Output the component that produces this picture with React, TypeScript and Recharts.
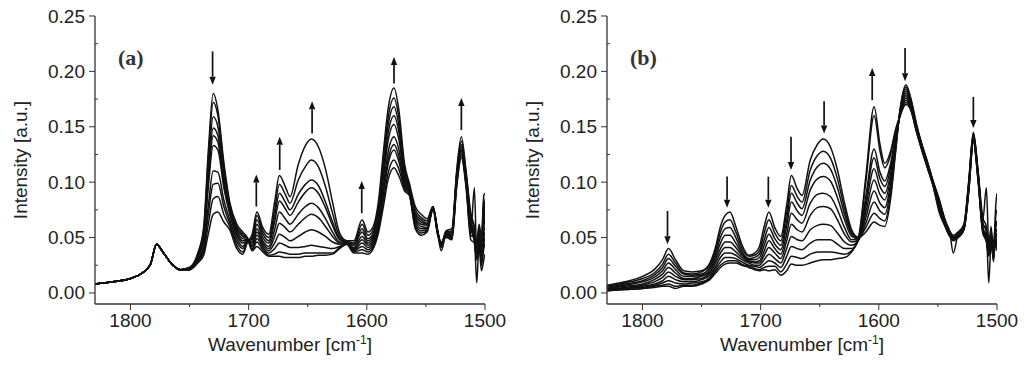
import React from 'react';
import { LineChart, Line, XAxis, YAxis, ReferenceLine, Customized } from 'recharts';

// wavenumber grid shared by both panels (cm-1)
const WAVENUMBERS = [
  1830, 1815, 1800, 1790, 1783, 1778, 1772, 1765, 1758, 1750,
  1743, 1738, 1734, 1730, 1726, 1721, 1716, 1710, 1705, 1701,
  1697, 1693, 1688, 1683, 1678, 1674, 1669, 1665, 1658, 1652,
  1647, 1641, 1635, 1629, 1623, 1617, 1611, 1604, 1599, 1595,
  1590, 1586, 1582, 1577, 1573, 1568, 1564, 1559, 1554, 1549,
  1544, 1540, 1537, 1533, 1528, 1524, 1520, 1516, 1512, 1509,
  1507, 1505, 1503, 1501, 1500,
];

// panel (a) spectra, first to last
const A0 = [0.008, 0.010, 0.013, 0.018, 0.026, 0.044, 0.036, 0.026, 0.021, 0.023, 0.036, 0.060, 0.130, 0.180, 0.165, 0.118, 0.082, 0.062, 0.055, 0.050, 0.038, 0.042, 0.037, 0.033, 0.033, 0.033, 0.032, 0.032, 0.032, 0.033, 0.033, 0.034, 0.034, 0.035, 0.040, 0.044, 0.036, 0.036, 0.035, 0.039, 0.055, 0.078, 0.102, 0.113, 0.106, 0.092, 0.088, 0.058, 0.052, 0.055, 0.075, 0.052, 0.046, 0.050, 0.048, 0.095, 0.122, 0.095, 0.048, 0.045, 0.030, 0.040, 0.020, 0.030, 0.035];
const A1 = [0.008, 0.010, 0.013, 0.018, 0.026, 0.044, 0.036, 0.026, 0.021, 0.023, 0.035, 0.057, 0.124, 0.172, 0.160, 0.114, 0.080, 0.060, 0.053, 0.049, 0.039, 0.046, 0.039, 0.034, 0.035, 0.037, 0.036, 0.035, 0.035, 0.036, 0.036, 0.036, 0.036, 0.036, 0.041, 0.044, 0.037, 0.039, 0.037, 0.041, 0.058, 0.083, 0.108, 0.120, 0.112, 0.094, 0.089, 0.060, 0.054, 0.056, 0.076, 0.053, 0.045, 0.051, 0.049, 0.097, 0.124, 0.097, 0.052, 0.050, 0.009, 0.045, 0.030, 0.070, 0.060];
const A2 = [0.008, 0.010, 0.013, 0.018, 0.026, 0.044, 0.036, 0.026, 0.021, 0.022, 0.034, 0.054, 0.115, 0.159, 0.150, 0.108, 0.077, 0.058, 0.051, 0.049, 0.040, 0.049, 0.041, 0.036, 0.040, 0.045, 0.043, 0.041, 0.041, 0.042, 0.043, 0.042, 0.041, 0.040, 0.042, 0.045, 0.038, 0.042, 0.039, 0.043, 0.061, 0.089, 0.116, 0.129, 0.119, 0.096, 0.090, 0.062, 0.056, 0.057, 0.076, 0.053, 0.038, 0.052, 0.050, 0.099, 0.126, 0.099, 0.055, 0.095, 0.035, 0.050, 0.025, 0.040, 0.045];
const A3 = [0.008, 0.010, 0.013, 0.018, 0.026, 0.044, 0.036, 0.026, 0.021, 0.022, 0.033, 0.052, 0.108, 0.149, 0.142, 0.103, 0.075, 0.056, 0.049, 0.048, 0.042, 0.052, 0.043, 0.038, 0.045, 0.053, 0.050, 0.047, 0.051, 0.055, 0.057, 0.055, 0.051, 0.046, 0.044, 0.045, 0.039, 0.045, 0.041, 0.045, 0.063, 0.092, 0.120, 0.134, 0.124, 0.098, 0.091, 0.064, 0.058, 0.058, 0.077, 0.054, 0.044, 0.053, 0.051, 0.101, 0.128, 0.100, 0.058, 0.048, 0.032, 0.038, 0.035, 0.075, 0.065];
const A4 = [0.008, 0.010, 0.013, 0.018, 0.026, 0.044, 0.036, 0.026, 0.021, 0.022, 0.032, 0.050, 0.103, 0.142, 0.136, 0.099, 0.073, 0.054, 0.047, 0.048, 0.043, 0.055, 0.045, 0.040, 0.051, 0.063, 0.059, 0.055, 0.062, 0.068, 0.071, 0.068, 0.060, 0.051, 0.045, 0.045, 0.040, 0.048, 0.043, 0.047, 0.066, 0.097, 0.127, 0.141, 0.130, 0.100, 0.092, 0.066, 0.060, 0.059, 0.077, 0.054, 0.043, 0.053, 0.052, 0.102, 0.129, 0.102, 0.060, 0.052, 0.038, 0.055, 0.028, 0.045, 0.050];
const A5 = [0.008, 0.010, 0.013, 0.018, 0.026, 0.044, 0.036, 0.026, 0.021, 0.022, 0.032, 0.048, 0.097, 0.133, 0.129, 0.095, 0.071, 0.052, 0.045, 0.047, 0.045, 0.058, 0.047, 0.042, 0.057, 0.073, 0.067, 0.062, 0.071, 0.078, 0.081, 0.077, 0.067, 0.055, 0.046, 0.046, 0.041, 0.051, 0.045, 0.049, 0.070, 0.104, 0.137, 0.152, 0.139, 0.103, 0.093, 0.068, 0.062, 0.061, 0.077, 0.055, 0.045, 0.054, 0.053, 0.103, 0.130, 0.103, 0.062, 0.046, 0.030, 0.042, 0.040, 0.080, 0.070];
const A6 = [0.008, 0.010, 0.013, 0.018, 0.026, 0.044, 0.036, 0.026, 0.021, 0.021, 0.030, 0.043, 0.080, 0.110, 0.109, 0.084, 0.066, 0.049, 0.042, 0.047, 0.046, 0.062, 0.050, 0.045, 0.064, 0.083, 0.076, 0.070, 0.082, 0.091, 0.095, 0.090, 0.077, 0.061, 0.048, 0.046, 0.043, 0.055, 0.047, 0.051, 0.073, 0.110, 0.144, 0.160, 0.146, 0.106, 0.094, 0.070, 0.064, 0.062, 0.077, 0.055, 0.042, 0.054, 0.054, 0.105, 0.132, 0.105, 0.064, 0.055, 0.040, 0.058, 0.032, 0.050, 0.055];
const A7 = [0.008, 0.010, 0.013, 0.018, 0.026, 0.044, 0.036, 0.026, 0.021, 0.021, 0.029, 0.040, 0.072, 0.098, 0.099, 0.078, 0.063, 0.046, 0.040, 0.047, 0.048, 0.066, 0.053, 0.047, 0.069, 0.090, 0.082, 0.075, 0.089, 0.098, 0.102, 0.097, 0.082, 0.064, 0.049, 0.046, 0.044, 0.058, 0.049, 0.053, 0.076, 0.115, 0.151, 0.168, 0.152, 0.109, 0.095, 0.072, 0.066, 0.063, 0.078, 0.055, 0.044, 0.055, 0.055, 0.106, 0.134, 0.106, 0.066, 0.050, 0.036, 0.047, 0.045, 0.085, 0.075];
const A8 = [0.008, 0.010, 0.013, 0.018, 0.026, 0.044, 0.036, 0.026, 0.021, 0.021, 0.028, 0.037, 0.063, 0.085, 0.087, 0.071, 0.060, 0.043, 0.037, 0.046, 0.050, 0.070, 0.056, 0.050, 0.075, 0.098, 0.089, 0.081, 0.102, 0.114, 0.120, 0.114, 0.096, 0.072, 0.051, 0.047, 0.045, 0.062, 0.052, 0.056, 0.080, 0.121, 0.158, 0.176, 0.159, 0.112, 0.097, 0.075, 0.068, 0.065, 0.078, 0.056, 0.041, 0.055, 0.056, 0.108, 0.137, 0.108, 0.069, 0.058, 0.042, 0.060, 0.036, 0.055, 0.060];
const A9 = [0.008, 0.010, 0.013, 0.018, 0.026, 0.044, 0.036, 0.026, 0.021, 0.021, 0.027, 0.034, 0.054, 0.071, 0.073, 0.064, 0.057, 0.040, 0.035, 0.046, 0.053, 0.073, 0.059, 0.053, 0.082, 0.106, 0.096, 0.087, 0.116, 0.133, 0.139, 0.132, 0.112, 0.082, 0.054, 0.047, 0.047, 0.066, 0.055, 0.059, 0.084, 0.127, 0.166, 0.185, 0.166, 0.116, 0.099, 0.078, 0.071, 0.067, 0.078, 0.056, 0.043, 0.056, 0.058, 0.110, 0.141, 0.110, 0.072, 0.060, 0.045, 0.062, 0.050, 0.088, 0.090];

// panel (b) spectra, first to last
const B0 = [0.007, 0.010, 0.015, 0.021, 0.030, 0.040, 0.030, 0.020, 0.019, 0.020, 0.027, 0.042, 0.060, 0.070, 0.073, 0.060, 0.044, 0.034, 0.036, 0.042, 0.060, 0.073, 0.059, 0.051, 0.079, 0.106, 0.094, 0.088, 0.120, 0.134, 0.139, 0.132, 0.111, 0.081, 0.057, 0.050, 0.055, 0.064, 0.061, 0.060, 0.085, 0.125, 0.166, 0.188, 0.176, 0.152, 0.136, 0.119, 0.101, 0.085, 0.066, 0.056, 0.052, 0.055, 0.062, 0.100, 0.145, 0.110, 0.068, 0.060, 0.040, 0.060, 0.035, 0.080, 0.090];
const B1 = [0.006, 0.009, 0.013, 0.018, 0.026, 0.035, 0.027, 0.018, 0.017, 0.019, 0.025, 0.039, 0.055, 0.064, 0.066, 0.055, 0.041, 0.033, 0.034, 0.038, 0.054, 0.066, 0.054, 0.047, 0.072, 0.097, 0.087, 0.082, 0.111, 0.124, 0.128, 0.122, 0.103, 0.076, 0.055, 0.050, 0.059, 0.072, 0.067, 0.065, 0.089, 0.127, 0.165, 0.186, 0.175, 0.151, 0.135, 0.118, 0.100, 0.084, 0.066, 0.055, 0.050, 0.054, 0.061, 0.099, 0.144, 0.109, 0.066, 0.095, 0.045, 0.052, 0.045, 0.065, 0.060];
const B2 = [0.005, 0.008, 0.011, 0.016, 0.023, 0.031, 0.024, 0.017, 0.016, 0.017, 0.023, 0.036, 0.050, 0.058, 0.059, 0.050, 0.038, 0.031, 0.032, 0.035, 0.048, 0.059, 0.049, 0.043, 0.066, 0.090, 0.081, 0.076, 0.102, 0.114, 0.117, 0.112, 0.095, 0.071, 0.053, 0.049, 0.063, 0.082, 0.074, 0.071, 0.094, 0.130, 0.164, 0.184, 0.173, 0.150, 0.135, 0.118, 0.100, 0.083, 0.065, 0.055, 0.036, 0.053, 0.060, 0.097, 0.143, 0.108, 0.064, 0.055, 0.038, 0.058, 0.030, 0.070, 0.075];
const B3 = [0.004, 0.007, 0.010, 0.014, 0.020, 0.027, 0.021, 0.015, 0.015, 0.016, 0.021, 0.033, 0.045, 0.052, 0.052, 0.045, 0.036, 0.030, 0.030, 0.032, 0.043, 0.053, 0.044, 0.039, 0.060, 0.082, 0.074, 0.070, 0.093, 0.103, 0.105, 0.101, 0.086, 0.066, 0.051, 0.049, 0.068, 0.092, 0.081, 0.077, 0.099, 0.132, 0.163, 0.182, 0.172, 0.149, 0.134, 0.117, 0.099, 0.082, 0.064, 0.054, 0.051, 0.053, 0.060, 0.096, 0.142, 0.107, 0.062, 0.058, 0.009, 0.045, 0.040, 0.055, 0.050];
const B4 = [0.004, 0.006, 0.008, 0.012, 0.017, 0.023, 0.018, 0.013, 0.013, 0.015, 0.019, 0.030, 0.040, 0.046, 0.046, 0.041, 0.034, 0.029, 0.028, 0.029, 0.038, 0.047, 0.040, 0.035, 0.053, 0.072, 0.066, 0.063, 0.081, 0.089, 0.090, 0.087, 0.075, 0.059, 0.048, 0.049, 0.073, 0.102, 0.089, 0.084, 0.104, 0.135, 0.162, 0.180, 0.170, 0.148, 0.133, 0.116, 0.099, 0.080, 0.063, 0.054, 0.049, 0.052, 0.059, 0.095, 0.141, 0.106, 0.060, 0.050, 0.036, 0.055, 0.028, 0.060, 0.065];
const B5 = [0.003, 0.005, 0.007, 0.010, 0.014, 0.019, 0.015, 0.012, 0.012, 0.013, 0.018, 0.027, 0.036, 0.041, 0.041, 0.037, 0.032, 0.028, 0.027, 0.027, 0.034, 0.041, 0.036, 0.031, 0.047, 0.062, 0.057, 0.055, 0.070, 0.077, 0.078, 0.076, 0.066, 0.053, 0.046, 0.048, 0.078, 0.112, 0.096, 0.090, 0.108, 0.137, 0.162, 0.178, 0.169, 0.147, 0.133, 0.116, 0.098, 0.079, 0.063, 0.053, 0.050, 0.052, 0.059, 0.094, 0.140, 0.105, 0.058, 0.052, 0.040, 0.048, 0.038, 0.050, 0.045];
const B6 = [0.003, 0.004, 0.006, 0.008, 0.011, 0.015, 0.012, 0.010, 0.010, 0.012, 0.016, 0.024, 0.032, 0.036, 0.036, 0.034, 0.030, 0.027, 0.025, 0.025, 0.030, 0.035, 0.031, 0.027, 0.040, 0.051, 0.048, 0.047, 0.057, 0.061, 0.062, 0.061, 0.054, 0.046, 0.043, 0.048, 0.083, 0.122, 0.103, 0.096, 0.113, 0.139, 0.161, 0.176, 0.168, 0.147, 0.132, 0.115, 0.098, 0.078, 0.062, 0.053, 0.048, 0.051, 0.058, 0.093, 0.139, 0.104, 0.057, 0.048, 0.034, 0.050, 0.032, 0.058, 0.055];
const B7 = [0.002, 0.004, 0.005, 0.007, 0.009, 0.011, 0.009, 0.008, 0.009, 0.010, 0.014, 0.022, 0.028, 0.032, 0.032, 0.031, 0.028, 0.025, 0.024, 0.023, 0.026, 0.029, 0.027, 0.023, 0.033, 0.042, 0.040, 0.039, 0.045, 0.048, 0.048, 0.048, 0.044, 0.040, 0.040, 0.048, 0.087, 0.130, 0.109, 0.101, 0.117, 0.141, 0.160, 0.174, 0.167, 0.146, 0.131, 0.114, 0.097, 0.077, 0.061, 0.052, 0.050, 0.051, 0.058, 0.092, 0.138, 0.103, 0.056, 0.050, 0.038, 0.044, 0.036, 0.048, 0.040];
const B8 = [0.002, 0.003, 0.004, 0.006, 0.007, 0.008, 0.006, 0.007, 0.007, 0.009, 0.013, 0.020, 0.025, 0.028, 0.029, 0.029, 0.026, 0.024, 0.022, 0.021, 0.023, 0.024, 0.024, 0.019, 0.026, 0.033, 0.032, 0.031, 0.035, 0.037, 0.037, 0.037, 0.036, 0.035, 0.038, 0.050, 0.100, 0.160, 0.128, 0.113, 0.125, 0.145, 0.160, 0.172, 0.166, 0.145, 0.131, 0.114, 0.097, 0.075, 0.061, 0.052, 0.047, 0.050, 0.057, 0.091, 0.137, 0.102, 0.055, 0.046, 0.033, 0.046, 0.030, 0.052, 0.050];
const B9 = [0.002, 0.003, 0.004, 0.005, 0.006, 0.006, 0.004, 0.006, 0.006, 0.008, 0.012, 0.018, 0.023, 0.026, 0.027, 0.027, 0.025, 0.023, 0.021, 0.020, 0.021, 0.020, 0.021, 0.016, 0.020, 0.026, 0.025, 0.025, 0.027, 0.029, 0.030, 0.030, 0.031, 0.032, 0.037, 0.051, 0.105, 0.168, 0.134, 0.117, 0.128, 0.147, 0.160, 0.170, 0.165, 0.145, 0.130, 0.113, 0.096, 0.073, 0.060, 0.051, 0.049, 0.050, 0.057, 0.090, 0.136, 0.101, 0.054, 0.047, 0.035, 0.042, 0.034, 0.046, 0.038];

const X_TICKS = [1800, 1750, 1700, 1650, 1600, 1550, 1500];
const X_LABELS = [1800, 1700, 1600, 1500];
const Y_TICKS = [0, 0.025, 0.05, 0.075, 0.1, 0.125, 0.15, 0.175, 0.2, 0.225, 0.25];
const Y_LABELS = [0, 0.05, 0.1, 0.15, 0.2, 0.25];

// arrows: tail value -> tip value at a wavenumber
const ARROWS_A = [
  { wn: 1730.5, from: 0.218, to: 0.188 },
  { wn: 1693.5, from: 0.078, to: 0.107 },
  { wn: 1673.7, from: 0.111, to: 0.141 },
  { wn: 1646.3, from: 0.144, to: 0.173 },
  { wn: 1604.3, from: 0.072, to: 0.101 },
  { wn: 1577.0, from: 0.189, to: 0.213 },
  { wn: 1520.0, from: 0.147, to: 0.176 },
];
const ARROWS_B = [
  { wn: 1778.8, from: 0.074, to: 0.044 },
  { wn: 1728.4, from: 0.105, to: 0.077 },
  { wn: 1693.5, from: 0.105, to: 0.077 },
  { wn: 1674.3, from: 0.141, to: 0.111 },
  { wn: 1646.3, from: 0.173, to: 0.144 },
  { wn: 1605.6, from: 0.174, to: 0.203 },
  { wn: 1577.8, from: 0.221, to: 0.191 },
  { wn: 1520.0, from: 0.177, to: 0.149 },
];

const AXIS = '#333';
const INK = '#111';
const FONT = '"Liberation Sans", Arial, sans-serif';

const isIn = (list: number[], v: number) => list.some((t) => Math.abs(t - v) < 1e-6);

const BottomTick = (props: any) => {
  const { x, y, payload } = props;
  const major = isIn(X_LABELS, payload.value);
  return (
    <g>
      <line x1={x} x2={x} y1={y} y2={y + (major ? 6 : 3)} stroke={AXIS} strokeWidth={1} />
      {major && (
        <text x={x} y={y + 23} textAnchor="middle" fontSize={19} fontFamily={FONT} fill="#222">
          {payload.value}
        </text>
      )}
    </g>
  );
};

const TopTick = (props: any) => {
  const { x, y } = props;
  return <line x1={x} x2={x} y1={y} y2={y + 5} stroke={AXIS} strokeWidth={1} />;
};

const LeftTick = (props: any) => {
  const { x, y, payload } = props;
  const major = isIn(Y_LABELS, payload.value);
  return (
    <g>
      <line x1={major ? x - 6 : x} x2={major ? x : x + 3} y1={y} y2={y} stroke={AXIS} strokeWidth={1} />
      {major && (
        <text x={x - 10} y={y + 6.5} textAnchor="end" fontSize={19} fontFamily={FONT} fill="#222">
          {payload.value.toFixed(2)}
        </text>
      )}
    </g>
  );
};

const RightTick = (props: any) => {
  const { x, y } = props;
  return <line x1={x - 6} x2={x} y1={y} y2={y} stroke={AXIS} strokeWidth={1} />;
};

const ArrowShape = (props: any) => {
  const { x1, y1, x2, y2 } = props;
  const dir = y2 > y1 ? 1 : -1;
  const head = 8;
  return (
    <g>
      <line x1={x1} y1={y1} x2={x2} y2={y2 - dir * head} stroke={INK} strokeWidth={1.7} />
      <polygon points={`${x2 - 3.2},${y2 - dir * head} ${x2 + 3.2},${y2 - dir * head} ${x2},${y2}`} fill={INK} />
    </g>
  );
};

const Titles = ({ tag }: { tag: string }) => (
  <g>
    <text x={118} y={65} fontSize={22} fontWeight="bold" fontFamily='"Liberation Serif", "Times New Roman", serif' fill="#333">
      {tag}
    </text>
    <text x={290} y={351} textAnchor="middle" fontSize={19} fontFamily={FONT} fill="#222">
      Wavenumber [cm<tspan dy={-7} fontSize={12}>-1</tspan><tspan dy={7}>]</tspan>
    </text>
    <text x={27} y={160} transform="rotate(-90 27 160)" textAnchor="middle" fontSize={19} fontFamily={FONT} fill="#222">
      Intensity [a.u.]
    </text>
  </g>
);

type Arrow = { wn: number; from: number; to: number };

function Panel({ series, arrows, tag }: { series: number[][]; arrows: Arrow[]; tag: string }) {
  const rows = WAVENUMBERS.map((wn, i) => {
    const r: Record<string, number> = { wn };
    series.forEach((s, k) => {
      r['s' + k] = s[i];
    });
    return r;
  });

  return (
    <LineChart width={512} height={369} data={rows} margin={{ top: 16, right: 27, bottom: 0, left: 0 }}>
      <XAxis
        dataKey="wn"
        type="number"
        domain={[1500, 1830]}
        reversed
        allowDataOverflow
        ticks={X_TICKS}
        interval={0}
        height={65}
        tickSize={0}
        tickMargin={0}
        tickLine={false}
        tick={BottomTick}
        axisLine={{ stroke: AXIS, strokeWidth: 1.3 }}
      />
      <XAxis
        xAxisId="top"
        orientation="top"
        dataKey="wn"
        type="number"
        domain={[1500, 1830]}
        reversed
        allowDataOverflow
        ticks={X_TICKS}
        interval={0}
        height={0}
        tickSize={0}
        tickMargin={0}
        tickLine={false}
        tick={TopTick}
        axisLine={{ stroke: AXIS, strokeWidth: 1.3 }}
      />
      <YAxis
        type="number"
        domain={[-0.01, 0.25]}
        allowDataOverflow
        ticks={Y_TICKS}
        interval={0}
        width={95}
        tickSize={0}
        tickMargin={0}
        tickLine={false}
        tick={LeftTick}
        axisLine={{ stroke: AXIS, strokeWidth: 1.3 }}
      />
      <YAxis
        yAxisId="right"
        orientation="right"
        type="number"
        domain={[-0.01, 0.25]}
        allowDataOverflow
        ticks={Y_TICKS}
        interval={0}
        width={0}
        tickSize={0}
        tickMargin={0}
        tickLine={false}
        tick={RightTick}
        axisLine={{ stroke: AXIS, strokeWidth: 1.3 }}
      />
      {series.map((_, k) => (
        <Line
          key={k}
          dataKey={'s' + k}
          type="monotone"
          stroke={INK}
          strokeWidth={1.5}
          dot={false}
          activeDot={false}
          isAnimationActive={false}
        />
      ))}
      {arrows.map((a, i) => (
        <ReferenceLine
          key={i}
          segment={[
            { x: a.wn, y: a.from },
            { x: a.wn, y: a.to },
          ]}
          shape={ArrowShape}
        />
      ))}
      <Customized component={<Titles tag={tag} />} />
    </LineChart>
  );
}

export default function App() {
  return (
    <div style={{ position: 'fixed', left: 0, top: 0, width: 1024, height: 369, background: '#fff', display: 'flex' }}>
      <Panel series={[A0, A1, A2, A3, A4, A5, A6, A7, A8, A9]} arrows={ARROWS_A} tag="(a)" />
      <Panel series={[B0, B1, B2, B3, B4, B5, B6, B7, B8, B9]} arrows={ARROWS_B} tag="(b)" />
    </div>
  );
}
